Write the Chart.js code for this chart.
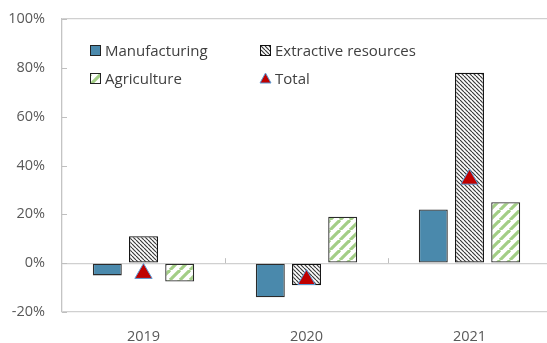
<!DOCTYPE html>
<html><head><meta charset="utf-8">
<script src="https://cdn.jsdelivr.net/npm/chart.js@4"></script>
<style>
html,body{margin:0;padding:0;background:#fff;}
#wrap{position:relative;width:547px;height:343px;overflow:hidden;}
#legend{position:absolute;left:0;top:0;font-family:"Open Sans",sans-serif;font-size:15px;color:#404040;}
.item{position:absolute;display:flex;align-items:center;white-space:nowrap;height:20px;}
.sw{width:11px;height:11px;box-sizing:border-box;margin-right:4px;flex:none;}
</style></head>
<body><div id="wrap"><canvas id="c" width="551" height="343"></canvas><div id="legend"></div></div>
<script>
const categories = ['2019', '2020', '2021'];
const manufacturing = [-5, -14, 22];
const extractive = [11, -9, 78];
const agriculture = [-7.5, 19, 25];
const total = [-4.2, -6.7, 34.4];
const seriesNames = ['Manufacturing', 'Extractive resources', 'Agriculture', 'Total'];
const yMin = -20, yMax = 100, yStep = 20;

function stripeCanvas(size, color, width, dir) {
  const c = document.createElement('canvas'); c.width = c.height = size;
  const g = c.getContext('2d');
  g.fillStyle = '#fff'; g.fillRect(0, 0, size, size);
  g.strokeStyle = color; g.lineWidth = width;
  for (const o of [-size, 0, size]) {
    g.beginPath();
    if (dir === 'down') { g.moveTo(o, 0); g.lineTo(o + size, size); }
    else { g.moveTo(o, size); g.lineTo(o + size, 0); }
    g.stroke();
  }
  return c;
}
const cnv = document.getElementById('c');
const ctx = cnv.getContext('2d');
const extCanvas = stripeCanvas(4, '#3a3a3a', 1.2, 'down');
const agrCanvas = stripeCanvas(10, '#A3CE86', 3.2, 'up');
const extPattern = ctx.createPattern(extCanvas, 'repeat');
const agrPattern = ctx.createPattern(agrCanvas, 'repeat');
const manuColor = '#4A89AC';

const tickPlugin = {
  id: 'innerTicks',
  beforeDatasetsDraw(chart) {
    const {ctx, scales: {x, y}} = chart;
    ctx.save();
    ctx.strokeStyle = '#BFBFBF'; ctx.lineWidth = 1;
    const left = chart.chartArea.left;
    for (let v = yMin; v <= yMax; v += yStep) {
      const py = Math.round(y.getPixelForValue(v)) + 0.5;
      ctx.beginPath(); ctx.moveTo(left, py); ctx.lineTo(left + 5, py); ctx.stroke();
    }
    const zy = y.getPixelForValue(0);
    for (let i = 0; i < categories.length - 1; i++) {
      const px = Math.round((x.getPixelForValue(i) + x.getPixelForValue(i + 1)) / 2) + 0.5;
      ctx.beginPath(); ctx.moveTo(px, zy); ctx.lineTo(px, zy - 5); ctx.stroke();
    }
    ctx.restore();
  }
};

const font = {family: '"Open Sans", sans-serif', size: 14.5};
new Chart(cnv, {
  type: 'bar',
  data: {
    labels: categories,
    datasets: [
      {label: seriesNames[0], data: manufacturing, backgroundColor: manuColor, borderColor: '#2b2b2b', borderWidth: 1.3, borderSkipped: false, order: 1},
      {label: seriesNames[1], data: extractive, backgroundColor: extPattern, borderColor: '#111', borderWidth: 1.3, borderSkipped: false, order: 1},
      {label: seriesNames[2], data: agriculture, backgroundColor: agrPattern, borderColor: '#2b2b2b', borderWidth: 1.3, borderSkipped: false, order: 1},
      {label: seriesNames[3], type: 'line', data: total, showLine: false, pointStyle: 'triangle', pointRadius: 10, pointHoverRadius: 10,
       pointBackgroundColor: '#C00000', pointBorderColor: '#5B9BD5', pointBorderWidth: 1, order: 0}
    ]
  },
  options: {
    responsive: false, animation: false,
    datasets: {bar: {categoryPercentage: 0.666, barPercentage: 0.8}},
    layout: {autoPadding: false, padding: {top: 19, right: 0, left: 0, bottom: 0}},
    plugins: {legend: {display: false}, tooltip: {enabled: false}},
    scales: {
      x: {
        grid: {display: false, drawTicks: false},
        border: {display: false},
        ticks: {color: '#595959', font, padding: 16},
        afterFit(s) { s.height = 31; s.paddingLeft = 0; s.paddingRight = 0; }
      },
      y: {
        min: yMin, max: yMax,
        ticks: {stepSize: yStep, color: '#595959', font, padding: 17, callback: v => v + '%'},
        grid: {drawTicks: false, lineWidth: 1.3,
          color: c => (c.tick && (c.tick.value === 0 || c.tick.value === yMax || c.tick.value === yMin)) ? '#D0D0D0' : 'rgba(0,0,0,0)'},
        border: {display: true, color: '#C4C4C4', width: 1.3},
        afterFit(s) { s.width = 62; s.paddingTop = 9; s.paddingBottom = 9; }
      }
    }
  },
  plugins: [tickPlugin]
});

// HTML legend
const legend = document.getElementById('legend');
function addItem(x, yc, swatch, text) {
  const d = document.createElement('div'); d.className = 'item';
  d.style.left = x + 'px'; d.style.top = (yc - 10) + 'px';
  d.appendChild(swatch);
  const s = document.createElement('span'); s.textContent = text; d.appendChild(s);
  legend.appendChild(d);
}
function box(bg, img, border) {
  const s = document.createElement('div'); s.className = 'sw';
  s.style.border = '1.3px solid ' + border;
  if (bg) s.style.background = bg;
  if (img) s.style.backgroundImage = 'url(' + img + ')';
  return s;
}
function triSwatch() {
  const c = document.createElement('canvas'); c.width = 13; c.height = 12; c.className = 'sw';
  c.style.width = '13px'; c.style.height = '12px'; c.style.marginRight = '3px';
  const g = c.getContext('2d');
  g.beginPath(); g.moveTo(6.5, 1); g.lineTo(12, 11); g.lineTo(1, 11); g.closePath();
  g.fillStyle = '#C00000'; g.fill(); g.strokeStyle = '#5B9BD5'; g.lineWidth = 1; g.stroke();
  return c;
}
addItem(90, 50, box(manuColor, null, '#222'), seriesNames[0]);
addItem(260, 50, box(null, extCanvas.toDataURL(), '#111'), seriesNames[1]);
addItem(90, 78, box(null, agrCanvas.toDataURL(), '#222'), seriesNames[2]);
addItem(259, 78, triSwatch(), seriesNames[3]);
</script>
</body></html>
